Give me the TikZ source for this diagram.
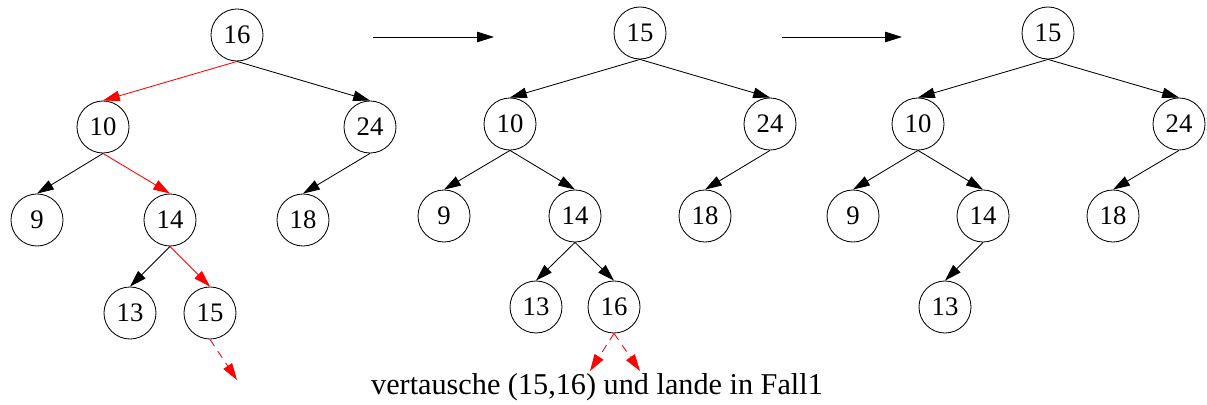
\documentclass[tikz,border=0pt]{standalone}
\usepackage{fontspec}
\setmainfont{Liberation Serif}
\usetikzlibrary{arrows.meta}

\begin{document}
\begin{tikzpicture}[x=0.025cm,y=-0.025cm,
  knot/.style={draw,circle,minimum size=1.3cm,inner sep=0pt,line width=0.6pt,font=\fontsize{19}{20}\selectfont},
  edge/.style={-{Triangle[length=4.2mm,width=2.6mm]},line width=0.6pt},
  rot/.style={edge,red},
  weiter/.style={rot,dash pattern=on 2mm off 1.5mm}]
\useasboundingbox (0,0) rectangle (1207,405);
% Baum vor dem Loeschen
\node[knot] (a16) at (237,35) {16};
\node[knot] (a10) at (103,127) {10};
\node[knot] (a24) at (370,127) {24};
\node[knot] (a9) at (37,220) {9};
\node[knot] (a14) at (170,220) {14};
\node[knot] (a18) at (303,220) {18};
\node[knot] (a13) at (130,313) {13};
\node[knot] (a15) at (210,313) {15};
\coordinate (a15r) at (237,380);
\draw[rot] (a16.south) -- (a10.north);
\draw[edge] (a16.south) -- (a24.north);
\draw[edge] (a10.south) -- (a9.north);
\draw[rot] (a10.south) -- (a14.north);
\draw[edge] (a24.south) -- (a18.north);
\draw[edge] (a14.south) -- (a13.north);
\draw[rot] (a14.south) -- (a15.north);
\draw[weiter] (a15.south) -- (a15r);
% Uebergaenge
\coordinate (p1) at (373,37);
\coordinate (p2) at (494,37);
\coordinate (q1) at (782,37);
\coordinate (q2) at (902,37);
\draw[edge] (p1) -- (p2);
\draw[edge] (q1) -- (q2);
% Baum nach dem Tauschen
\node[knot] (b15) at (640,33) {15};
\node[knot] (b10) at (510,124) {10};
\node[knot] (b24) at (770,124) {24};
\node[knot] (b9) at (444,216) {9};
\node[knot] (b14) at (575,216) {14};
\node[knot] (b18) at (705,216) {18};
\node[knot] (b13) at (536,307) {13};
\node[knot] (b16) at (614,307) {16};
\coordinate (b16l) at (590,371);
\coordinate (b16r) at (640,371);
\draw[edge] (b15.south) -- (b10.north);
\draw[edge] (b15.south) -- (b24.north);
\draw[edge] (b10.south) -- (b9.north);
\draw[edge] (b10.south) -- (b14.north);
\draw[edge] (b24.south) -- (b18.north);
\draw[edge] (b14.south) -- (b13.north);
\draw[edge] (b14.south) -- (b16.north);
\draw[weiter] (b16.south) -- (b16l);
\draw[weiter] (b16.south) -- (b16r);
\node[font=\fontsize{21.5}{24}\selectfont] (txt) at (597,387) {vertausche (15,16) und lande in Fall1};
% Baum nach dem Entfernen
\node[knot] (c15) at (1048,33) {15};
\node[knot] (c10) at (918,124) {10};
\node[knot] (c24) at (1179,124) {24};
\node[knot] (c9) at (853,216) {9};
\node[knot] (c14) at (983,216) {14};
\node[knot] (c18) at (1113,216) {18};
\node[knot] (c13) at (945,307) {13};
\draw[edge] (c15.south) -- (c10.north);
\draw[edge] (c15.south) -- (c24.north);
\draw[edge] (c10.south) -- (c9.north);
\draw[edge] (c10.south) -- (c14.north);
\draw[edge] (c24.south) -- (c18.north);
\draw[edge] (c14.south) -- (c13.north);
\end{tikzpicture}
\end{document}
